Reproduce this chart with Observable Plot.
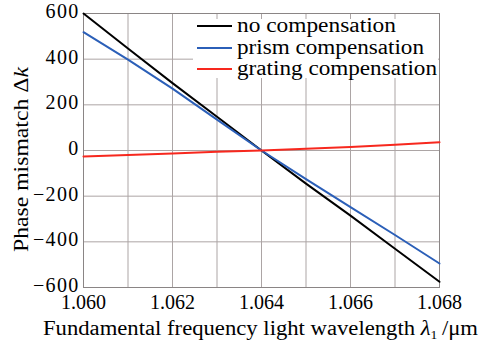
<!DOCTYPE html>
<html>
<head>
<meta charset="utf-8">
<script src="https://cdn.jsdelivr.net/npm/d3@7"></script>
<script src="https://cdn.jsdelivr.net/npm/@observablehq/plot@0.6"></script>
<style>
  html, body { margin: 0; padding: 0; background: #fff; }
  svg, svg g, svg text, svg tspan { font-family: "Liberation Serif", serif !important; font-variant: normal !important; font-variant-numeric: normal !important; }
</style>
</head>
<body>
<div id="chart"></div>
<script>
const wavelength = [1.060, 1.061, 1.062, 1.063, 1.064, 1.065, 1.066, 1.067, 1.068];
const noComp = [600, 447, 295, 148, 0, -145, -285, -430, -575];
const prismComp = [518, 398, 271, 135, 0, -125, -248, -370, -495];
const gratingComp = [-26, -20, -13, -6, 0, 8, 15, 25, 36];
const seriesNames = ["no compensation", "prism compensation", "grating compensation"];
const seriesColors = ["#000000", "#2b5fb8", "#f7281e"];
const xTicks = [1.060, 1.062, 1.064, 1.066, 1.068];
const xGrid = [1.061, 1.062, 1.063, 1.064, 1.065, 1.066, 1.067];
const yTicks = [-600, -400, -200, 0, 200, 400, 600];

const seriesValues = [noComp, prismComp, gratingComp];
const rows = [];
seriesNames.forEach((s, i) => wavelength.forEach((w, j) => rows.push({s, w, v: seriesValues[i][j]})));

const W = 479, H = 349;
const mL = 83, mR = 40, mT = 13, mB = 62;
const fmtY = d => (d < 0 ? "\u2212" + Math.abs(d) : String(d));

const plot = Plot.plot({
  width: W, height: H,
  marginLeft: mL, marginRight: mR, marginTop: mT, marginBottom: mB,
  style: {fontFamily: "'Liberation Serif', serif", fontSize: "20px", color: "#000", background: "#fff"},
  x: {domain: [1.060, 1.068]},
  y: {domain: [-600, 600]},
  color: {domain: seriesNames, range: seriesColors},
  marks: [
    Plot.gridX(xGrid, {stroke: "#aca5a5", strokeOpacity: 1, strokeWidth: 1}),
    Plot.gridY(yTicks, {stroke: "#aca5a5", strokeOpacity: 1, strokeWidth: 1}),
    Plot.frame({stroke: "#8a8585", strokeWidth: 1}),
    Plot.axisX({ticks: xTicks, tickFormat: d3.format(".3f"), tickSize: 0, tickPadding: 7, label: null, fontSize: 20}),
    Plot.axisY({ticks: yTicks, tickFormat: fmtY, tickSize: 0, tickPadding: 4, dy: -2, label: null, fontSize: 20}),
    Plot.line(rows, {x: "w", y: "v", z: "s", stroke: "s", strokeWidth: 2})
  ]
});

const svg = d3.select(plot);
svg.selectAll("text").attr("font-family", "Liberation Serif").attr("font-variant", null)
  .style("font-family", "'Liberation Serif', serif");
svg.selectAll('g[aria-label="y-axis tick label"] text').style("letter-spacing", "1.3px");
// legend box
const lg = svg.append("g").attr("text-anchor", "start");
lg.append("rect").attr("x", 193).attr("y", 19).attr("width", 245).attr("height", 59)
  .attr("fill", "#ffffff").style("fill", "#ffffff").style("stroke", "none");
const rowsY = [26, 48, 69];
const legendLen = [159, 187, 200];
seriesNames.forEach((s, i) => {
  lg.append("line").attr("x1", 197).attr("x2", 232).attr("y1", rowsY[i]).attr("y2", rowsY[i])
    .style("stroke", seriesColors[i]).style("stroke-width", "2px");
  lg.append("text").attr("x", 237).attr("y", rowsY[i] + 6)
    .attr("textLength", legendLen[i]).attr("lengthAdjust", "spacingAndGlyphs")
    .attr("text-anchor", "start").style("font-size", "20px").style("fill", "#000").text(s);
});
// x axis label
const xl = svg.append("text").attr("x", 43).attr("y", 335)
  .attr("textLength", 435).attr("lengthAdjust", "spacingAndGlyphs")
  .attr("text-anchor", "start").style("font-size", "20px").style("fill", "#000");
xl.append("tspan").text("Fundamental frequency light wavelength ");
xl.append("tspan").style("font-style", "italic").text("\u03bb");
xl.append("tspan").style("font-size", "12px").attr("dy", "4").text("1");
xl.append("tspan").attr("dy", "-4").text("\u2009/\u03bcm");
// y axis label
const yl = svg.append("text").attr("transform", "translate(28,252) rotate(-90)")
  .attr("textLength", 185).attr("lengthAdjust", "spacingAndGlyphs")
  .attr("text-anchor", "start").style("font-size", "20px").style("fill", "#000");
yl.append("tspan").text("Phase mismatch \u0394");
yl.append("tspan").style("font-style", "italic").text("k");

document.getElementById("chart").appendChild(plot);
</script>
</body>
</html>
